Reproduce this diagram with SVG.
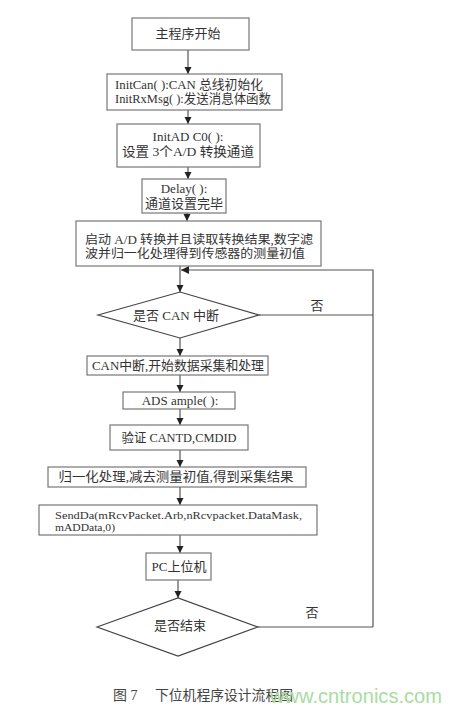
<svg xmlns="http://www.w3.org/2000/svg" width="452" height="713" viewBox="0 0 452 713">
<defs>
<marker id="ah" viewBox="0 0 10 10" refX="10" refY="5" markerWidth="7" markerHeight="9" markerUnits="userSpaceOnUse" orient="auto">
<path d="M0,0 L10,5 L0,10 Z" fill="#222"/>
</marker>
<marker id="ahl" viewBox="0 0 10 10" refX="10" refY="5" markerWidth="9" markerHeight="8" markerUnits="userSpaceOnUse" orient="auto">
<path d="M0,0 L10,5 L0,10 Z" fill="#222"/>
</marker>
</defs>
<style>
.box{fill:#fff;stroke:#777;stroke-width:1.2}
.dia{fill:#fff;stroke:#444;stroke-width:1.2}
.ln{fill:none;stroke:#555;stroke-width:1.2}
.ar{fill:none;stroke:#555;stroke-width:1.2;marker-end:url(#ah)}
text{font-family:"Liberation Serif","Noto Sans CJK SC",serif;font-size:13px;fill:#333}
.c{text-anchor:middle}
.cap{font-size:14px;fill:#444}
.wm{font-family:"Liberation Sans",Arial,sans-serif;font-size:20px;fill:#a9dca0}
</style>
<rect width="452" height="713" fill="#fff"/>

<g id="connectors">
<line class="ar" x1="188" y1="50" x2="188" y2="74"/>
<line class="ar" x1="188" y1="110" x2="188" y2="124"/>
<line class="ar" x1="188" y1="167" x2="188" y2="179"/>
<line class="ar" x1="187" y1="213" x2="187" y2="221"/>
<line class="ar" x1="180" y1="266" x2="180" y2="292"/>
<line class="ln" x1="259" y1="315" x2="373" y2="315"/>
<line class="ln" x1="258" y1="627" x2="373" y2="627"/>
<polyline class="ln" points="373,627 373,270 181,270" style="marker-end:url(#ahl)"/>
<line class="ar" x1="180" y1="338" x2="180" y2="356"/>
<line class="ar" x1="180" y1="375" x2="180" y2="392"/>
<line class="ar" x1="180" y1="409" x2="180" y2="425"/>
<line class="ar" x1="180" y1="450" x2="180" y2="467"/>
<line class="ar" x1="180" y1="487" x2="180" y2="505"/>
<line class="ar" x1="180" y1="535" x2="180" y2="553"/>
<line class="ar" x1="178" y1="580" x2="178" y2="598"/>
<text x="317" y="310" class="c">否</text>
<text x="312" y="617" class="c">否</text>
</g>

<g id="n1">
<rect class="box" x="132" y="18" width="117" height="32"/>
<text x="188" y="38" class="c">主程序开始</text>
</g>
<g id="n2">
<rect class="box" x="107" y="74" width="175" height="36"/>
<text x="115" y="89" textLength="148" lengthAdjust="spacingAndGlyphs">InitCan( ):CAN 总线初始化</text>
<text x="115" y="103" textLength="156" lengthAdjust="spacingAndGlyphs">InitRxMsg( ):发送消息体函数</text>
</g>
<g id="n3">
<rect class="box" x="117" y="124" width="143" height="43"/>
<text x="188" y="141" class="c">InitAD C0( ):</text>
<text x="188" y="156" class="c" textLength="132" lengthAdjust="spacingAndGlyphs">设置 3个A/D 转换通道</text>
</g>
<g id="n4">
<rect class="box" x="142" y="179" width="84" height="34"/>
<text x="184" y="193" class="c">Delay( ):</text>
<text x="184" y="208" class="c">通道设置完毕</text>
</g>
<g id="n5">
<rect class="box" x="76" y="221" width="245" height="45"/>
<text x="85" y="244" style="font-size:12px" textLength="228" lengthAdjust="spacingAndGlyphs">启动 A/D 转换并且读取转换结果,数字滤</text>
<text x="85" y="258" style="font-size:12px" textLength="220" lengthAdjust="spacingAndGlyphs">波并归一化处理得到传感器的测量初值</text>
</g>
<g id="d1">
<polygon class="dia" points="98,315 180,292 259,315 180,338"/>
<text x="176" y="320" class="c">是否 CAN 中断</text>
</g>
<g id="n6">
<rect class="box" x="87" y="356" width="181" height="19"/>
<text x="178" y="370" class="c" textLength="172" lengthAdjust="spacingAndGlyphs">CAN中断,开始数据采集和处理</text>
</g>
<g id="n7">
<rect class="box" x="123" y="392" width="112" height="17"/>
<text x="180" y="405" class="c">ADS ample( ):</text>
</g>
<g id="n8">
<rect class="box" x="110" y="425" width="138" height="25"/>
<text x="179" y="442" class="c" textLength="115" lengthAdjust="spacingAndGlyphs">验证 CANTD,CMDID</text>
</g>
<g id="n9">
<rect class="box" x="48" y="467" width="258" height="20"/>
<text x="176" y="481" class="c" textLength="235" lengthAdjust="spacingAndGlyphs">归一化处理,减去测量初值,得到采集结果</text>
</g>
<g id="n10">
<rect class="box" x="39" y="505" width="278" height="30"/>
<text x="55" y="519" style="font-size:11px" textLength="247" lengthAdjust="spacingAndGlyphs">SendDa(mRcvPacket.Arb,nRcvpacket.DataMask,</text>
<text x="55" y="531" style="font-size:11px" textLength="60" lengthAdjust="spacingAndGlyphs">mADData,0)</text>
</g>
<g id="n11">
<rect class="box" x="146" y="553" width="65" height="27"/>
<text x="179" y="571" class="c">PC上位机</text>
</g>
<g id="d2">
<polygon class="dia" points="97,627 178,598 258,627 178,656"/>
<text x="180" y="630" class="c">是否结束</text>
</g>

<g id="caption">
<text x="113" y="700" class="cap">图 7</text>
<text x="155" y="700" class="cap" textLength="138" lengthAdjust="spacingAndGlyphs">下位机程序设计流程图</text>
<text x="270" y="703" class="wm" textLength="172" lengthAdjust="spacingAndGlyphs">www.cntronics.com</text>
</g>
</svg>
